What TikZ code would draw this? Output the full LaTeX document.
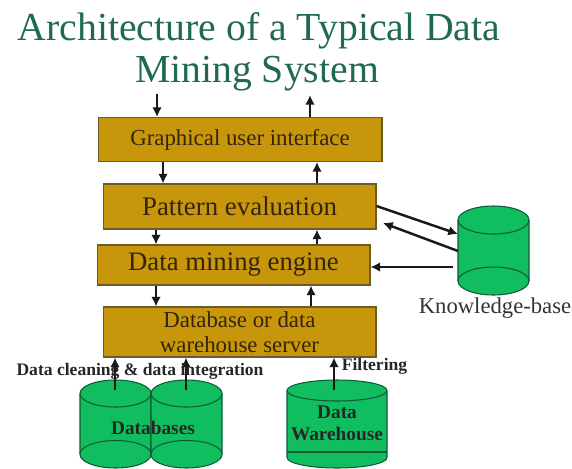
\documentclass[tikz,border=0pt]{standalone}
\usepackage{fontspec}
\setmainfont{Liberation Serif}
\usetikzlibrary{arrows.meta,calc,positioning}
\definecolor{boxgold}{HTML}{C8960A}
\definecolor{boxedge}{HTML}{6B5A2A}
\definecolor{drumgreen}{HTML}{10BE60}
\definecolor{drumedge}{HTML}{0E5A34}
\definecolor{titlegreen}{HTML}{1F6A50}
\definecolor{boxtext}{HTML}{33240A}
\tikzset{
  layer/.style={draw=boxedge, line width=0.6pt, fill=boxgold, text=boxtext, inner sep=0pt, align=center, font=\fontsize{13}{14.5}\selectfont},
  flow/.style={-{Latex[length=5.5pt,width=5.5pt]}, line width=1.4pt, black!90},
  heading/.style={text=titlegreen, inner sep=0pt, font=\fontsize{22.6}{26}\selectfont},
  boldlabel/.style={inner sep=0pt, text=black!85, font=\bfseries\fontsize{10}{12}\selectfont},
  drumlabel/.style={inner sep=0pt, align=center, text=black!85, font=\bfseries\fontsize{11}{12.5}\selectfont},
  drumline/.style={drumedge, line width=0.6pt}
}
% name, left x, right x, top y, bottom y, ellipse height
\newcommand{\drum}[6]{
  \fill[drumgreen] (#2,#4+#6/2) -- (#2,#5-#6/2) arc[start angle=180, end angle=360, x radius=(#3-#2)/2*0.02cm, y radius=#6/2*0.02cm] -- (#3,#4+#6/2) arc[start angle=0, end angle=180, x radius=(#3-#2)/2*0.02cm, y radius=#6/2*0.02cm] -- cycle;
  \draw[drumline] (#2,#4+#6/2) -- (#2,#5-#6/2) arc[start angle=180, end angle=360, x radius=(#3-#2)/2*0.02cm, y radius=#6/2*0.02cm] -- (#3,#4+#6/2);
  \draw[drumline] ({(#2+#3)/2},#4+#6/2) ellipse[x radius=(#3-#2)/2*0.02cm, y radius=#6/2*0.02cm];
  \coordinate (#1) at ({(#2+#3)/2},{(#4+#5)/2});
}
\begin{document}
\begin{tikzpicture}[x=0.02cm, y=-0.02cm]
  \useasboundingbox (0,0) rectangle (572,468);

  \node[heading] (titleone) at (259,31) {Architecture of a Typical Data};
  \node[heading] (titletwo) at (257,74) {Mining System};

  \node[layer, minimum width=5.68cm, minimum height=0.88cm] (gui) at (240,139.5) {Graphical user interface};
  \node[layer, minimum width=5.46cm, minimum height=0.9cm, font=\fontsize{15.3}{17}\selectfont] (pattern) at (239.5,206.5) {Pattern evaluation};
  \node[layer, minimum width=5.46cm, minimum height=0.8cm, font=\fontsize{15.2}{17}\selectfont] (engine) at (233.5,265) {Data mining engine};
  \node[layer, minimum width=5.46cm, minimum height=1cm] (server) at (239.5,332) {Database or data\\warehouse server};

  \drum{dbleft}{80}{151}{380}{468}{27}
  \drum{dbright}{151}{222}{380}{468}{27}
  \draw[drumline] (80,454) arc[start angle=180, end angle=0, x radius=0.71cm, y radius=0.27cm];
  \draw[drumline] (151,454) arc[start angle=180, end angle=0, x radius=0.71cm, y radius=0.27cm];
  \drum{warehouse}{287}{387}{380}{468}{21}
  \draw[drumline] (287,452) -- (387,452);
  \drum{kb}{458}{529}{206}{295}{28}
  \draw[drumline] (458,281) arc[start angle=180, end angle=0, x radius=0.71cm, y radius=0.28cm];

  \coordinate (inputend) at (157,94);
  \coordinate (outputend) at (310,95);
  \draw[flow] (inputend) -- (inputend |- gui.north);
  \draw[flow] (outputend |- gui.north) -- (outputend);
  \draw[flow] ([xshift=-1.54cm]gui.south) -- ([xshift=-1.54cm]gui.south |- pattern.north);
  \draw[flow] ([xshift=1.55cm]pattern.north) -- ([xshift=1.55cm]pattern.north |- gui.south);
  \draw[flow] ([xshift=-1.67cm]pattern.south) -- ([xshift=-1.67cm]pattern.south |- engine.north);
  \draw[flow] ([xshift=1.67cm]engine.north) -- ([xshift=1.67cm]engine.north |- pattern.south);
  \draw[flow] ([xshift=-1.55cm]engine.south) -- ([xshift=-1.55cm]engine.south |- server.north);
  \draw[flow] ([xshift=1.43cm]server.north) -- ([xshift=1.43cm]server.north |- engine.south);

  \coordinate (kbin) at (458,234);
  \coordinate (kbout) at (458,251);
  \coordinate (kbreturn) at (453,267);
  \coordinate (patback) at (383,223);
  \draw[flow] (pattern.east |- 0,206) -- (kbin);
  \draw[flow] (kbout) -- (patback);
  \draw[flow] (kbreturn) -- (engine.east |- kbreturn);

  \coordinate (dbleftup) at (115,390);
  \coordinate (dbrightup) at (186,390);
  \coordinate (warehouseup) at (334,390);
  \draw[flow] (dbleftup) -- (dbleftup |- server.south);
  \draw[flow] (dbrightup) -- (dbrightup |- server.south);
  \draw[flow] (warehouseup) -- (warehouseup |- server.south);

  \node[boldlabel] (cleaning) at (140,371) {Data cleaning \& data integration};
  \node[boldlabel] (filtering) at (374.5,366) {Filtering};
  \node[drumlabel] (dblabel) at (153,428) {Databases};
  \node[drumlabel] (whlabel) at (337,423) {Data\\Warehouse};
  \node[inner sep=0pt, text=black!80, font=\fontsize{12.9}{15}\selectfont] (kblabel) at (495,308) {Knowledge-base};
\end{tikzpicture}
\end{document}
